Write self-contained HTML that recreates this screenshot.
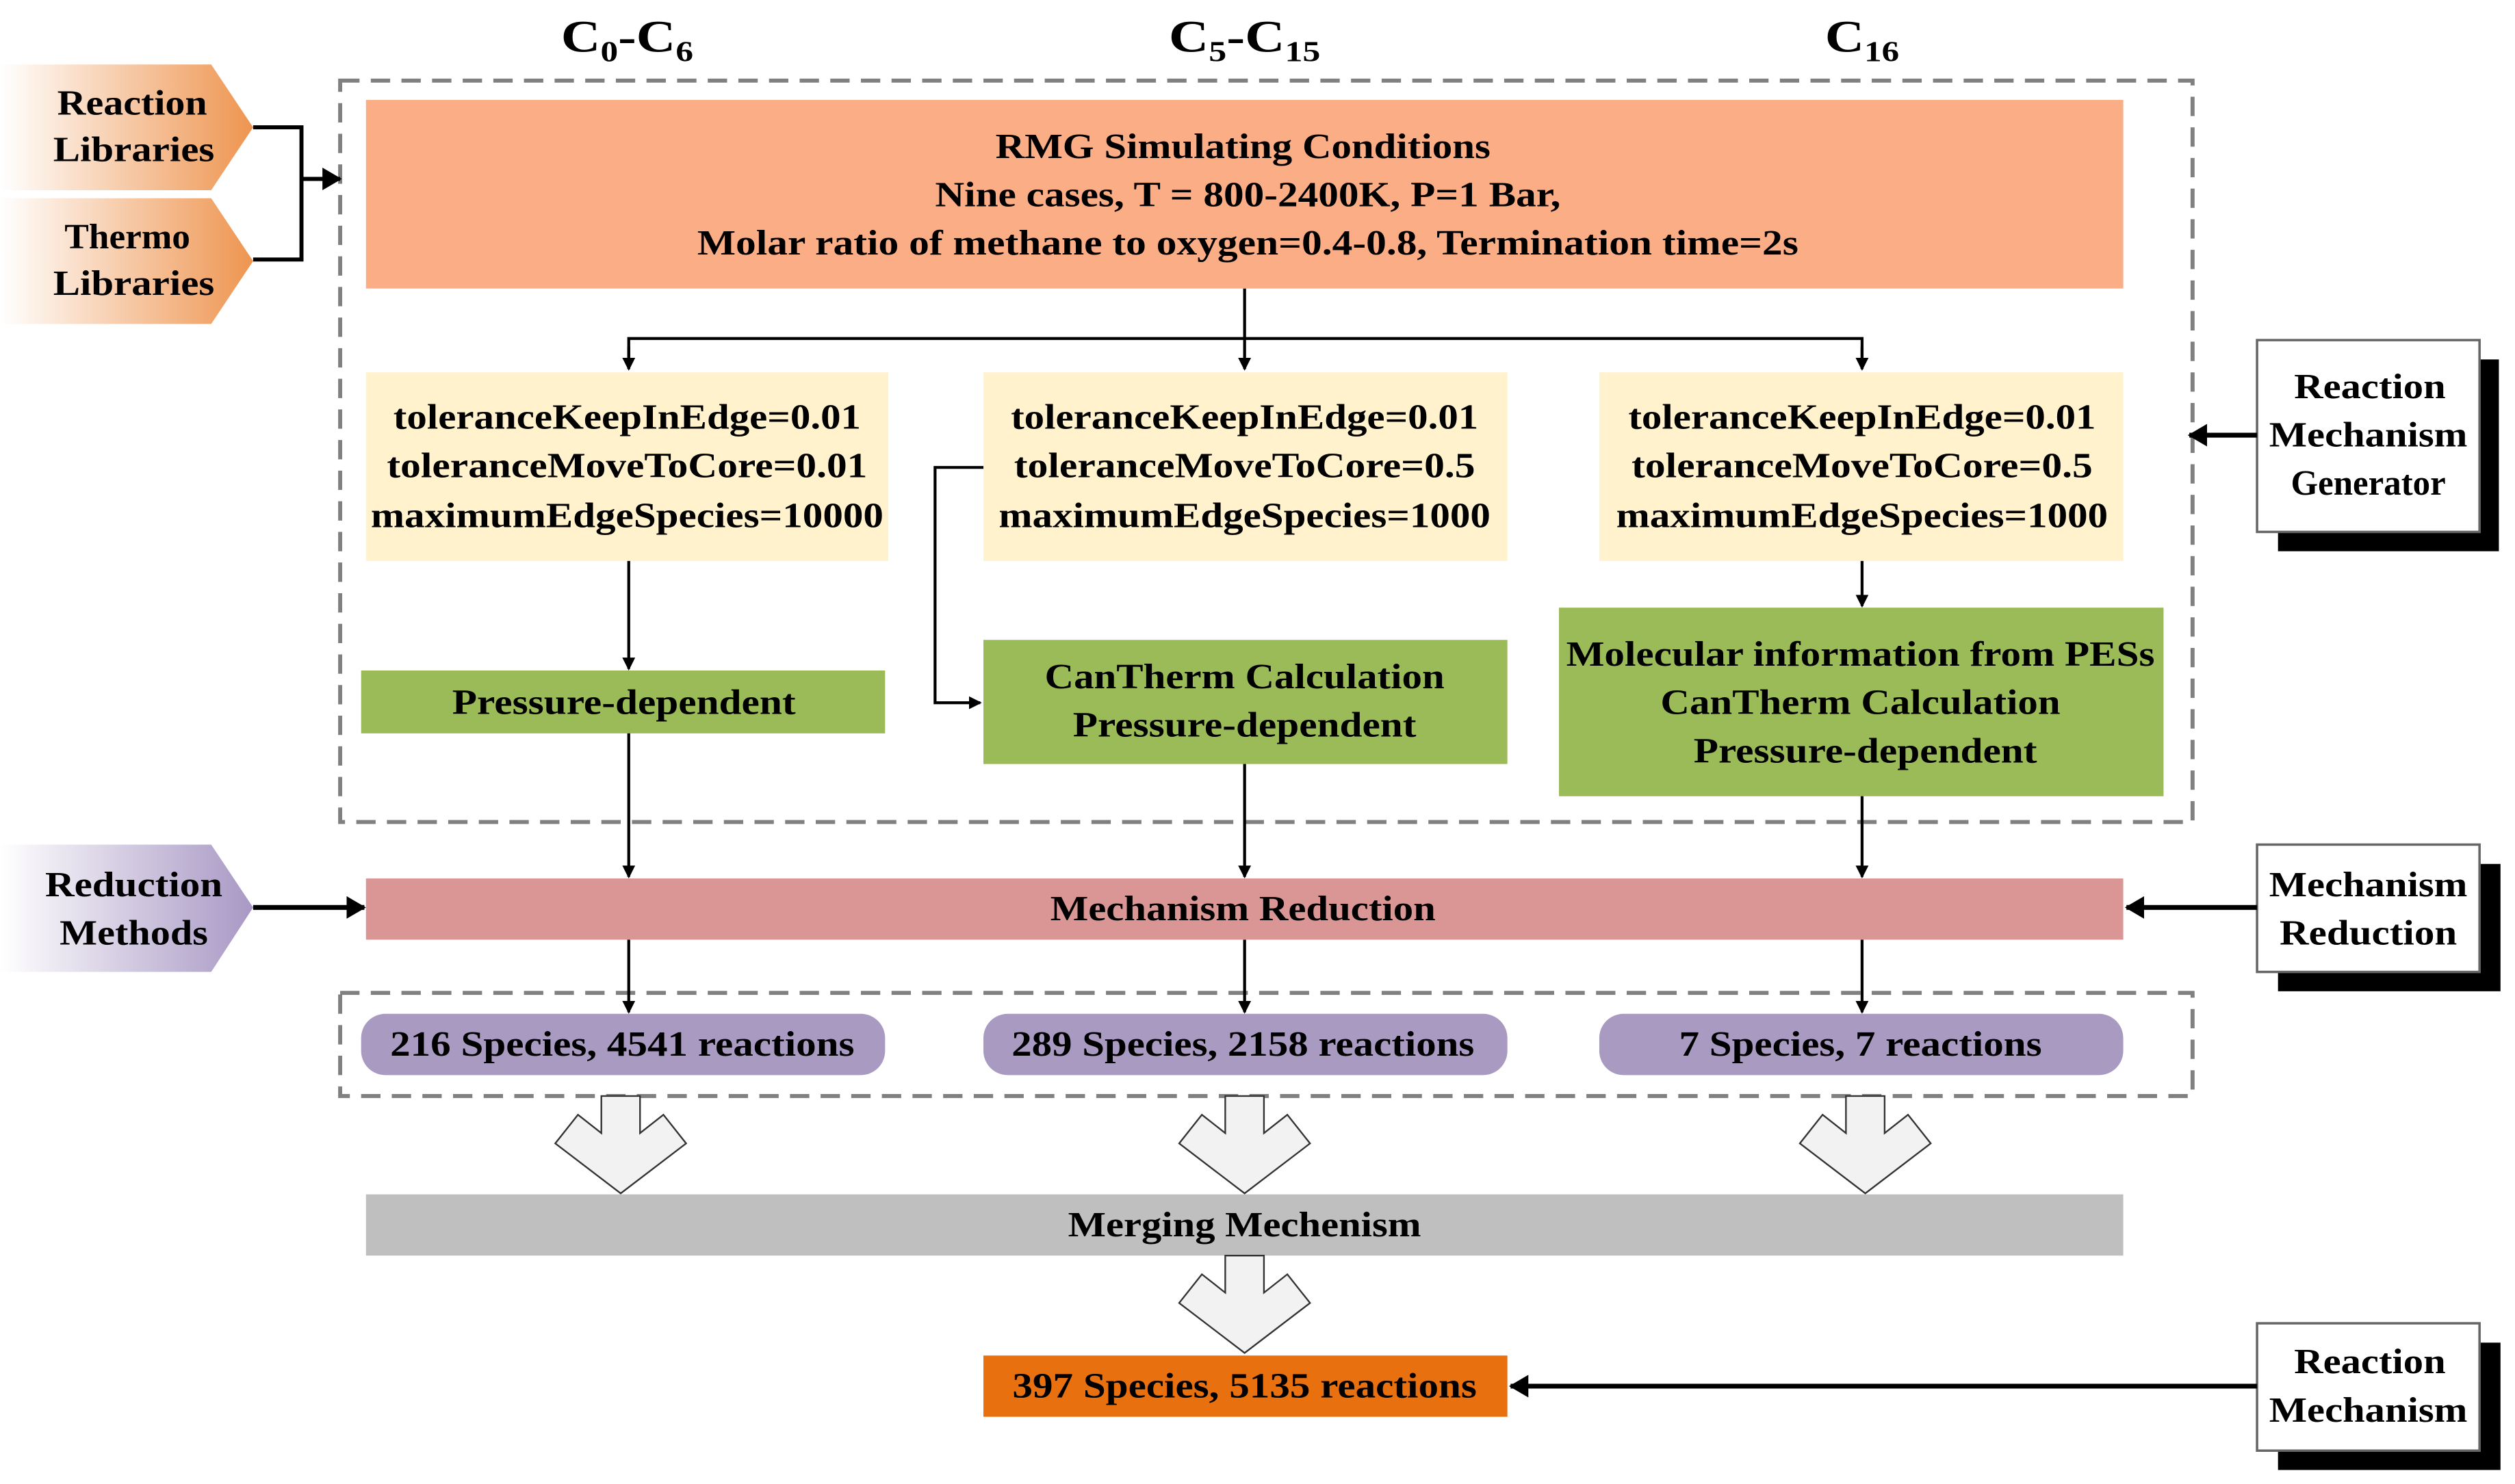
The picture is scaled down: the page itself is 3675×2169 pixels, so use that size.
<!DOCTYPE html>
<html><head><meta charset="utf-8"><style>
html,body{margin:0;padding:0;background:#fff;}
svg{display:block;}
text{font-family:"Liberation Serif",serif;font-weight:bold;fill:#000;}
</style></head><body>
<svg width="3675" height="2169" viewBox="0 0 1560 920.7" preserveAspectRatio="none" xmlns="http://www.w3.org/2000/svg">
<defs>
<linearGradient id="go" x1="0" x2="1" y1="0" y2="0"><stop offset="0" stop-color="#fff"/><stop offset="1" stop-color="#EE9550"/></linearGradient>
<linearGradient id="gp" x1="0" x2="1" y1="0" y2="0"><stop offset="0" stop-color="#fff"/><stop offset="1" stop-color="#A898C4"/></linearGradient>
<marker id="a" markerWidth="8" markerHeight="8" refX="7" refY="4" orient="auto" markerUnits="userSpaceOnUse"><path d="M0,0 L8,4 L0,8 z" fill="#000"/></marker>
<marker id="b" markerWidth="12" markerHeight="14" refX="11" refY="7" orient="auto" markerUnits="userSpaceOnUse"><path d="M0,0 L12,7 L0,14 z" fill="#000"/></marker>
</defs>

<!-- headers -->
<text x="389" y="32" font-size="28" text-anchor="middle" textLength="82" lengthAdjust="spacingAndGlyphs">C<tspan font-size="18" dy="6">0</tspan><tspan dy="-6">-C</tspan><tspan font-size="18" dy="6">6</tspan></text>
<text x="772" y="32" font-size="28" text-anchor="middle" textLength="94" lengthAdjust="spacingAndGlyphs">C<tspan font-size="18" dy="6">5</tspan><tspan dy="-6">-C</tspan><tspan font-size="18" dy="6">15</tspan></text>
<text x="1155" y="32" font-size="28" text-anchor="middle" textLength="46" lengthAdjust="spacingAndGlyphs">C<tspan font-size="18" dy="6">16</tspan></text>

<!-- dashed boxes -->
<rect x="211" y="50" width="1149" height="460" fill="none" stroke="#808080" stroke-width="2.5" stroke-dasharray="12,7"/>
<rect x="211" y="616" width="1149" height="64" fill="none" stroke="#808080" stroke-width="2.5" stroke-dasharray="12,7"/>

<g font-size="22" text-anchor="middle" lengthAdjust="spacingAndGlyphs">
<!-- left chevrons -->
<path d="M0,40 L131,40 L157,79 L131,118 L0,118 z" fill="url(#go)"/>
<path d="M0,123 L131,123 L157,162 L131,201 L0,201 z" fill="url(#go)"/>
<text x="82" y="71" textLength="93" lengthAdjust="spacingAndGlyphs">Reaction</text>
<text x="83" y="100" textLength="100" lengthAdjust="spacingAndGlyphs">Libraries</text>
<text x="79" y="154" textLength="78" lengthAdjust="spacingAndGlyphs">Thermo</text>
<text x="83" y="183" textLength="100" lengthAdjust="spacingAndGlyphs">Libraries</text>

<path d="M0,524 L131,524 L157,563 L131,603 L0,603 z" fill="url(#gp)"/>
<text x="83" y="556" textLength="110" lengthAdjust="spacingAndGlyphs">Reduction</text>
<text x="83" y="586" textLength="92" lengthAdjust="spacingAndGlyphs">Methods</text>

<!-- RMG box -->
<rect x="227" y="62" width="1090" height="117" fill="#FBAD85"/>
<text x="771" y="98" textLength="307" lengthAdjust="spacingAndGlyphs">RMG Simulating Conditions</text>
<text x="774" y="128" textLength="388" lengthAdjust="spacingAndGlyphs">Nine cases, T = 800-2400K, P=1 Bar,</text>
<text x="774" y="158" textLength="683" lengthAdjust="spacingAndGlyphs">Molar ratio of methane to oxygen=0.4-0.8, Termination time=2s</text>

<!-- yellow boxes -->
<rect x="227" y="231" width="324" height="117" fill="#FFF2CC"/>
<rect x="610" y="231" width="325" height="117" fill="#FFF2CC"/>
<rect x="992" y="231" width="325" height="117" fill="#FFF2CC"/>
<text x="389" y="266" textLength="290" lengthAdjust="spacingAndGlyphs">toleranceKeepInEdge=0.01</text>
<text x="389" y="296" textLength="298" lengthAdjust="spacingAndGlyphs">toleranceMoveToCore=0.01</text>
<text x="389" y="327" textLength="318" lengthAdjust="spacingAndGlyphs">maximumEdgeSpecies=10000</text>
<text x="772" y="266" textLength="290" lengthAdjust="spacingAndGlyphs">toleranceKeepInEdge=0.01</text>
<text x="772" y="296" textLength="286" lengthAdjust="spacingAndGlyphs">toleranceMoveToCore=0.5</text>
<text x="772" y="327" textLength="305" lengthAdjust="spacingAndGlyphs">maximumEdgeSpecies=1000</text>
<text x="1155" y="266" textLength="290" lengthAdjust="spacingAndGlyphs">toleranceKeepInEdge=0.01</text>
<text x="1155" y="296" textLength="286" lengthAdjust="spacingAndGlyphs">toleranceMoveToCore=0.5</text>
<text x="1155" y="327" textLength="305" lengthAdjust="spacingAndGlyphs">maximumEdgeSpecies=1000</text>

<!-- green boxes -->
<rect x="224" y="416" width="325" height="39" fill="#9BBB59"/>
<text x="387" y="443" textLength="213" lengthAdjust="spacingAndGlyphs">Pressure-dependent</text>
<rect x="610" y="397" width="325" height="77" fill="#9BBB59"/>
<text x="772" y="427" textLength="248" lengthAdjust="spacingAndGlyphs">CanTherm Calculation</text>
<text x="772" y="457" textLength="213" lengthAdjust="spacingAndGlyphs">Pressure-dependent</text>
<rect x="967" y="377" width="375" height="117" fill="#9BBB59"/>
<text x="1154" y="413" textLength="365" lengthAdjust="spacingAndGlyphs">Molecular information from PESs</text>
<text x="1154" y="443" textLength="248" lengthAdjust="spacingAndGlyphs">CanTherm Calculation</text>
<text x="1157" y="473" textLength="213" lengthAdjust="spacingAndGlyphs">Pressure-dependent</text>

<!-- Mechanism reduction -->
<rect x="227" y="545" width="1090" height="38" fill="#D99694"/>
<text x="771" y="571" textLength="239" lengthAdjust="spacingAndGlyphs">Mechanism Reduction</text>

<!-- purple pills -->
<rect x="224" y="629" width="325" height="38" rx="15" fill="#A99AC2"/>
<rect x="610" y="629" width="325" height="38" rx="15" fill="#A99AC2"/>
<rect x="992" y="629" width="325" height="38" rx="15" fill="#A99AC2"/>
<text x="386" y="655" textLength="288" lengthAdjust="spacingAndGlyphs">216 Species, 4541 reactions</text>
<text x="771" y="655" textLength="287" lengthAdjust="spacingAndGlyphs">289 Species, 2158 reactions</text>
<text x="1154" y="655" textLength="225" lengthAdjust="spacingAndGlyphs">7 Species, 7 reactions</text>

<!-- merging -->
<rect x="227" y="741" width="1090" height="38" fill="#BFBFBF"/>
<text x="772" y="767" textLength="219" lengthAdjust="spacingAndGlyphs">Merging Mechenism</text>

<!-- final -->
<rect x="610" y="841" width="325" height="38" fill="#E8700F"/>
<text x="772" y="867" textLength="288" lengthAdjust="spacingAndGlyphs">397 Species, 5135 reactions</text>

<!-- right boxes -->
<rect x="1413" y="223" width="137" height="119" fill="#000"/>
<rect x="1400" y="211" width="138" height="119" fill="#fff" stroke="#666" stroke-width="1.5"/>
<text x="1470" y="247" textLength="94" lengthAdjust="spacingAndGlyphs">Reaction</text>
<text x="1469" y="277" textLength="123" lengthAdjust="spacingAndGlyphs">Mechanism</text>
<text x="1469" y="307" textLength="96" lengthAdjust="spacingAndGlyphs">Generator</text>

<rect x="1413" y="536" width="138" height="79" fill="#000"/>
<rect x="1400" y="524" width="138" height="79" fill="#fff" stroke="#666" stroke-width="1.5"/>
<text x="1469" y="556" textLength="123" lengthAdjust="spacingAndGlyphs">Mechanism</text>
<text x="1469" y="586" textLength="110" lengthAdjust="spacingAndGlyphs">Reduction</text>

<rect x="1413" y="833" width="138" height="79" fill="#000"/>
<rect x="1400" y="821" width="138" height="79" fill="#fff" stroke="#666" stroke-width="1.5"/>
<text x="1470" y="852" textLength="94" lengthAdjust="spacingAndGlyphs">Reaction</text>
<text x="1469" y="882" textLength="123" lengthAdjust="spacingAndGlyphs">Mechanism</text>
</g>

<!-- connectors -->
<path d="M157,79 H187 V161 H157" fill="none" stroke="#000" stroke-width="2.5"/>
<line x1="187" y1="111" x2="211" y2="111" stroke="#000" stroke-width="2.5" marker-end="url(#b)"/>
<line x1="157" y1="563" x2="226" y2="563" stroke="#000" stroke-width="3" marker-end="url(#b)"/>

<line x1="772" y1="179" x2="772" y2="229" stroke="#000" stroke-width="1.8" marker-end="url(#a)"/>
<path d="M390,229 V210 H1155 V229" fill="none" stroke="#000" stroke-width="1.8"/>
<line x1="390" y1="215" x2="390" y2="229" stroke="#000" stroke-width="1.8" marker-end="url(#a)"/>
<line x1="1155" y1="215" x2="1155" y2="229" stroke="#000" stroke-width="1.8" marker-end="url(#a)"/>

<line x1="390" y1="348" x2="390" y2="415" stroke="#000" stroke-width="1.8" marker-end="url(#a)"/>
<path d="M610,290 H580 V436 H608" fill="none" stroke="#000" stroke-width="1.8" marker-end="url(#a)"/>
<line x1="1155" y1="348" x2="1155" y2="376" stroke="#000" stroke-width="1.8" marker-end="url(#a)"/>

<line x1="390" y1="455" x2="390" y2="544" stroke="#000" stroke-width="1.8" marker-end="url(#a)"/>
<line x1="772" y1="474" x2="772" y2="544" stroke="#000" stroke-width="1.8" marker-end="url(#a)"/>
<line x1="1155" y1="494" x2="1155" y2="544" stroke="#000" stroke-width="1.8" marker-end="url(#a)"/>

<line x1="390" y1="583" x2="390" y2="628" stroke="#000" stroke-width="1.8" marker-end="url(#a)"/>
<line x1="772" y1="583" x2="772" y2="628" stroke="#000" stroke-width="1.8" marker-end="url(#a)"/>
<line x1="1155" y1="583" x2="1155" y2="628" stroke="#000" stroke-width="1.8" marker-end="url(#a)"/>

<line x1="1400" y1="270" x2="1358" y2="270" stroke="#000" stroke-width="3" marker-end="url(#b)"/>
<line x1="1400" y1="563" x2="1319" y2="563" stroke="#000" stroke-width="3" marker-end="url(#b)"/>
<line x1="1400" y1="860" x2="937" y2="860" stroke="#000" stroke-width="3" marker-end="url(#b)"/>

<!-- hollow arrows -->
<g fill="#F2F2F2" stroke="#333" stroke-width="1">
<path transform="translate(385,0)" d="M-12,680 H12 V703 L26.5,691.6 L40.6,709.4 L0,740.4 L-40.6,709.4 L-26.5,691.6 L-12,703 z"/>
<path transform="translate(772,0)" d="M-12,680 H12 V703 L26.5,691.6 L40.6,709.4 L0,740.4 L-40.6,709.4 L-26.5,691.6 L-12,703 z"/>
<path transform="translate(1157,0)" d="M-12,680 H12 V703 L26.5,691.6 L40.6,709.4 L0,740.4 L-40.6,709.4 L-26.5,691.6 L-12,703 z"/>
<path transform="translate(772,99)" d="M-12,680 H12 V703 L26.5,691.6 L40.6,709.4 L0,740.4 L-40.6,709.4 L-26.5,691.6 L-12,703 z"/>
</g>
</svg>
</body></html>
